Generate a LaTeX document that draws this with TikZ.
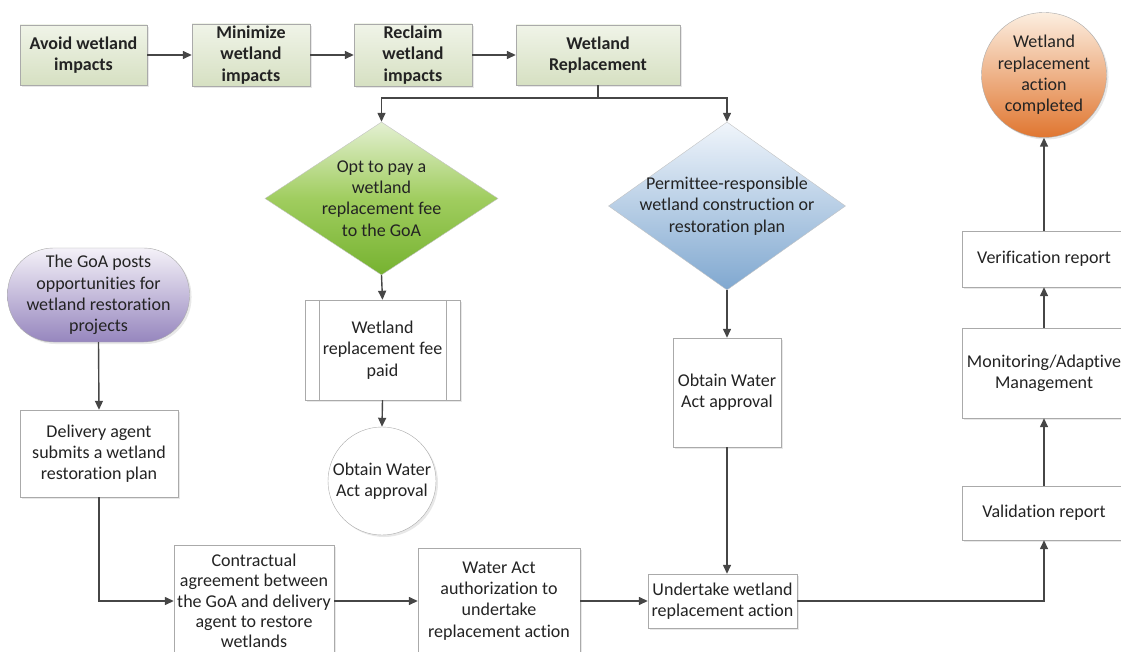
\documentclass[tikz,border=0pt]{standalone}
\usepackage{fontspec}
\setmainfont[Ligatures=NoCommon]{Carlito}
\usetikzlibrary{arrows.meta,shapes.geometric,shadows}

\definecolor{txtgray}{RGB}{35,35,35}
\definecolor{linegray}{RGB}{70,70,70}
\definecolor{boxline}{RGB}{170,170,170}
\definecolor{stepTop}{RGB}{240,244,232}
\definecolor{stepBot}{RGB}{214,224,194}
\definecolor{optTop}{RGB}{228,240,210}
\definecolor{optMid}{RGB}{160,205,95}
\definecolor{optBot}{RGB}{118,178,48}
\definecolor{permTop}{RGB}{240,245,251}
\definecolor{permBot}{RGB}{128,168,208}
\definecolor{postTop}{RGB}{244,241,248}
\definecolor{postBot}{RGB}{150,134,190}
\definecolor{doneTop}{RGB}{252,238,224}
\definecolor{doneBot}{RGB}{224,118,48}

\tikzset{
  every node/.style={font=\fontsize{18}{21.3}\selectfont, text=txtgray, align=center},
  boxshadow/.style={drop shadow={shadow xshift=2pt, shadow yshift=-2pt, opacity=0.18}},
  stepbox/.style={rectangle, draw=boxline, top color=stepTop, bottom color=stepBot,
    minimum height=60pt, inner sep=2pt, boxshadow, font=\fontsize{18}{21.3}\selectfont\bfseries},
  plainbox/.style={rectangle, draw=boxline, fill=white, inner sep=2pt, boxshadow},
  choicediamond/.style={diamond, draw=boxline!70, inner sep=0pt},
  flow/.style={draw=linegray, line width=1.4pt, -{Triangle[length=9pt,width=8pt]}},
  plainline/.style={draw=linegray, line width=1.4pt}
}

\begin{document}
\begin{tikzpicture}[x=1pt,y=1pt,yscale=-1]
\useasboundingbox (0,0) rectangle (1121,652);

% top row of steps
\node[stepbox, minimum width=127pt] (avoid) at (83.5,55) {Avoid wetland\\impacts};
\node[stepbox, minimum width=118pt] (minimize) at (251,55) {Minimize\\wetland\\impacts};
\node[stepbox, minimum width=118pt] (reclaim) at (413,55) {Reclaim\\wetland\\impacts};
\node[stepbox, minimum width=164pt] (replace) at (598,55) {Wetland\\Replacement};
\coordinate (split) at (598,98);

% the two options
\node[choicediamond, minimum width=233pt, minimum height=153pt,
  top color=optTop, bottom color=optBot, middle color=optMid] (optfee) at (381.5,198.5) {};
\node (optfeetext) at (optfee.center) {Opt to pay a\\wetland\\replacement fee\\to the GoA};
\node[choicediamond, minimum width=237pt, minimum height=168pt,
  top color=permTop, bottom color=permBot] (permit) at (727,206) {};
\node (permittext) at (permit.center) {Permittee-responsible\\wetland construction or\\restoration plan};

% fee branch
\node[plainbox, minimum width=155pt, minimum height=100pt] (feepaid) at (382.5,350) {Wetland\\replacement fee\\paid};
\draw[boxline] ([xshift=14pt]feepaid.north west) -- ([xshift=14pt]feepaid.south west);
\draw[boxline] ([xshift=-14pt]feepaid.north east) -- ([xshift=-14pt]feepaid.south east);
\node[circle, draw=boxline, fill=white, minimum size=108pt, inner sep=0pt, boxshadow] (feewater) at (382,481) {Obtain Water\\Act approval};

% permittee branch
\node[plainbox, minimum width=108pt, minimum height=109pt] (permwater) at (727,392.5) {Obtain Water\\Act approval};

% GoA restoration branch
\node[rectangle, rounded corners=46pt, draw=boxline, top color=postTop, bottom color=postBot,
  minimum width=182pt, minimum height=94pt, boxshadow] (posts) at (98.5,295) {The GoA posts\\opportunities for\\wetland restoration\\projects};
\node[plainbox, minimum width=158pt, minimum height=87pt] (delivery) at (99,453.5) {Delivery agent\\submits a wetland\\restoration plan};
\node[plainbox, minimum width=160pt, minimum height=112pt, font=\fontsize{18}{20.4}\selectfont] (contract) at (254,601) {Contractual\\agreement between\\the GoA and delivery\\agent to restore\\wetlands};
\node[plainbox, minimum width=162pt, minimum height=106pt] (authorize) at (499,601) {Water Act\\authorization to\\undertake\\replacement action};
\node[plainbox, minimum width=149pt, minimum height=54pt] (undertake) at (722.5,601) {Undertake wetland\\replacement action};

% reporting column
\node[plainbox, minimum width=164pt, minimum height=54pt] (validate) at (1044,513) {Validation report};
\node[plainbox, minimum width=164pt, minimum height=90pt] (monitor) at (1044,373) {Monitoring/Adaptive\\Management};
\node[plainbox, minimum width=164pt, minimum height=56pt] (verify) at (1044,259) {Verification report};
\node[circle, draw=boxline, top color=doneTop, bottom color=doneBot, minimum size=125pt,
  inner sep=0pt, boxshadow] (done) at (1044,75) {Wetland\\replacement\\action\\completed};

% connectors
\draw[flow] (avoid) -- (minimize);
\draw[flow] (minimize) -- (reclaim);
\draw[flow] (reclaim) -- (replace);
\draw[plainline] (replace.south) -- (split);
\draw[flow] (split) -| (optfee.north);
\draw[flow] (split) -| (permit.north);
\draw[flow] (optfee.south) -- (feepaid.north);
\draw[flow] (feepaid.south) -- (feewater.north);
\draw[flow] (permit.south) -- (permwater.north);
\draw[flow] (permwater.south) -- (permwater.south |- undertake.north);
\draw[flow] (posts.south) -- (delivery.north);
\draw[flow] (delivery.south) |- (contract.west);
\draw[flow] (contract) -- (authorize);
\draw[flow] (authorize) -- (undertake);
\draw[flow] (undertake.east) -| (validate.south);
\draw[flow] (validate) -- (monitor);
\draw[flow] (monitor) -- (verify);
\draw[flow] (verify) -- (done);

\end{tikzpicture}
\end{document}
